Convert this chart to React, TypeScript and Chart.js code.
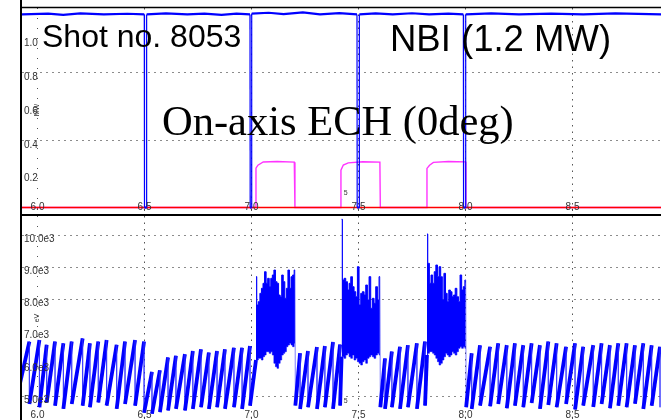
import React, { useEffect, useRef } from "react";
import { Chart, registerables } from "chart.js";

Chart.register(...registerables);

// ---------- shared x axis (time, s) ----------
const X_MIN = 5.9276;
const X_MAX = 8.9136;
const xTicks = [6.0, 6.5, 7.0, 7.5, 8.0, 8.5];
const xTickLabels = ["6.0", "6.5", "7.0", "7.5", "8.0", "8.5"];

// ---------- top panel (power, MW) ----------
const TOP_Y_MIN = -0.038;
const TOP_Y_MAX = 1.178;
const topTicks = [1.0, 0.8, 0.6, 0.4, 0.2];
const topTickLabels = ["1.0", "0.8", "0.6", "0.4", "0.2"];
const topGrid = [0.8, 0.4];

const nbiTimes = [5.9, 6.05, 6.12, 6.2, 6.31, 6.42, 6.499, 6.5, 6.509, 6.51, 6.6, 6.7, 6.78, 6.86, 6.93, 6.993, 6.994, 7.0, 7.001, 7.08, 7.15, 7.24, 7.32, 7.41, 7.493, 7.494, 7.503, 7.504, 7.58, 7.66, 7.75, 7.83, 7.92, 7.99, 7.991, 8.0, 8.001, 8.12, 8.25, 8.4, 8.55, 8.7, 8.95];
const nbiPower = [1.14, 1.145, 1.138, 1.146, 1.14, 1.144, 1.14, 0.0, 0.0, 1.14, 1.146, 1.14, 1.145, 1.138, 1.145, 1.14, 0.0, 0.0, 1.145, 1.15, 1.142, 1.152, 1.14, 1.148, 1.14, 0.0, 0.0, 1.14, 1.146, 1.14, 1.147, 1.14, 1.145, 1.14, 0.0, 0.0, 1.14, 1.146, 1.14, 1.145, 1.14, 1.146, 1.14];

const echTimes = [5.9, 7.02, 7.021, 7.03, 7.055, 7.12, 7.2, 7.203, 7.417, 7.418, 7.429, 7.452, 7.52, 7.6, 7.602, 7.819, 7.82, 7.832, 7.85, 7.92, 8.0, 8.002, 8.95];
const echPower = [0, 0, 0.233, 0.25, 0.269, 0.272, 0.268, 0, 0, 0.221, 0.251, 0.264, 0.27, 0.268, 0, 0, 0.231, 0.25, 0.267, 0.272, 0.27, 0, 0];

const zeroTimes = [5.9, 8.95];
const zeroLevel = [0, 0];

// ---------- bottom panel (Te, eV) ----------
const BOT_Y_MIN = 4255;
const BOT_Y_MAX = 10590;
const botTicks = [10000, 9000, 8000, 7000, 6000, 5000];
const botTickLabels = ["10.0e3", "9.0e3", "8.0e3", "7.0e3", "6.0e3", "5.0e3"];
const botGrid = [10000, 9000, 8000, 5000];

// sawtooth segment A (before first NBI notch)
const sawAStart = [5.915, 5300];
const sawATimes = [5.962, 6.009, 6.043, 6.082, 6.121, 6.16, 6.211, 6.245, 6.284, 6.323, 6.37, 6.409, 6.456, 6.498];
const sawAPeaks = [6690, 6740, 6590, 6690, 6640, 6690, 6790, 6640, 6690, 6740, 6590, 6690, 6740, 6690];
const sawATroughs = [4750, 4650, 4800, 4700, 4600, 4750, 4700, 4650, 4800, 4700, 4600, 4750, 4700, 4480];

// sawtooth segment B (after notch, before ECH pulse 1)
const sawBTimes = [6.535, 6.572, 6.61, 6.647, 6.689, 6.726, 6.764, 6.801, 6.839, 6.876, 6.918, 6.956, 6.993];
const sawBPeaks = [5750, 5800, 6200, 6250, 6300, 6400, 6450, 6350, 6400, 6450, 6500, 6500, 6550];
const sawBTroughs = [4450, 4500, 4550, 4600, 4550, 4600, 4650, 4600, 4650, 4600, 4650, 4600, 4700];

// ECH burst 1
const burst1Span = [7.021, 7.203];
const burst1Tops = [8706, 7826, 7930, 8189, 8344, 8500, 8861, 8500, 8655, 8396, 8655, 8758, 8913, 8551, 8500, 8137, 8085, 8758, 8551, 8034, 8344, 8913, 8344, 8706, 8758, 8913];
const burst1Bottoms = [6118, 6118, 6170, 6170, 6118, 6220, 6273, 6377, 6377, 6325, 6377, 6273, 6015, 5911, 5860, 6015, 6118, 6273, 6325, 6377, 6532, 6584, 6636, 6584, 6532, 6636];

// sawtooth segment C
const sawCStart = [7.205, 4700];
const sawCTimes = [7.227, 7.264, 7.306, 7.343, 7.381, 7.414];
const sawCPeaks = [6330, 6400, 6520, 6550, 6680, 6600];
const sawCTroughs = [4600, 4650, 4600, 4650, 4600, 4700];

// ECH burst 2
const burst2Span = [7.421, 7.6];
const burst2Tops = [10488, 8603, 8655, 8551, 8292, 8500, 8706, 8396, 8240, 8085, 9016, 7826, 8189, 8240, 8137, 8448, 7982, 8706, 7723, 8034, 7878, 8396, 7982, 8706];
const burst2Bottoms = [6220, 6220, 6170, 6273, 6325, 6220, 6170, 6273, 6118, 6170, 6066, 6015, 5963, 6066, 6118, 6015, 6170, 6220, 6273, 6220, 6170, 6273, 6325, 6273];

// sawtooth segment D
const sawDStart = [7.602, 4650];
const sawDTimes = [7.624, 7.656, 7.694, 7.731, 7.773, 7.811];
const sawDPeaks = [6170, 6380, 6530, 6580, 6640, 6690];
const sawDTroughs = [4600, 4650, 4600, 4650, 4600, 4700];

// ECH burst 3
const burst3Span = [7.82, 8.001];
const burst3Tops = [10032, 9121, 8500, 8758, 8500, 8861, 9069, 8706, 9016, 8706, 7982, 8810, 8189, 7930, 8292, 8240, 8085, 8137, 8344, 8085, 7930, 8758, 8292, 8396, 8603];
const burst3Bottoms = [6273, 6325, 6377, 6377, 6325, 6273, 6170, 6066, 5963, 6015, 6118, 6220, 6325, 6273, 6220, 6273, 6377, 6325, 6273, 6377, 6480, 6532, 6480, 6532, 6480];

// sawtooth segment E
const sawEStart = [8.003, 4650];
const sawETimes = [8.029, 8.068, 8.115, 8.153, 8.193, 8.231, 8.27, 8.309, 8.348, 8.387, 8.426, 8.47, 8.512, 8.55, 8.597, 8.636, 8.675, 8.714, 8.753, 8.792, 8.831, 8.87, 8.909];
const sawEPeaks = [6330, 6580, 6530, 6640, 6580, 6640, 6580, 6640, 6580, 6690, 6640, 6530, 6640, 6530, 6580, 6640, 6580, 6640, 6640, 6580, 6640, 6580, 6530];
const sawETroughs = [4600, 4700, 4680, 4750, 4620, 4700, 4650, 4780, 4600, 4720, 4650, 4750, 4580, 4700, 4660, 4750, 4620, 4700, 4650, 4760, 4600, 4700, 4650];

type Pt = { x: number; y: number | null };

function zip(xs: number[], ys: number[]): Pt[] {
  return xs.map((x, i) => ({ x, y: ys[i] }));
}

function addSaw(pts: Pt[], start: number[] | null, times: number[], peaks: number[], troughs: number[]) {
  if (start) pts.push({ x: start[0], y: start[1] });
  times.forEach((t, i) => {
    pts.push({ x: t, y: peaks[i] });
    pts.push({ x: t, y: troughs[i] });
  });
}

function burstTimes(span: number[], n: number): number[] {
  const dt = (span[1] - span[0]) / (n - 1);
  return Array.from({ length: n }, (_, i) => span[0] + dt * i);
}

// joins the sawtooth into a burst (ramp to first bottom) and out of it (crash from last top)
function addBurstLinks(pts: Pt[], span: number[], tops: number[], bottoms: number[]) {
  pts.push({ x: span[0], y: bottoms[0] });
  pts.push({ x: (span[0] + span[1]) / 2, y: null });
  pts.push({ x: span[1], y: tops[tops.length - 1] });
}

function buildTe(): Pt[] {
  const pts: Pt[] = [];
  addSaw(pts, sawAStart, sawATimes, sawAPeaks, sawATroughs);
  addSaw(pts, null, sawBTimes, sawBPeaks, sawBTroughs);
  addBurstLinks(pts, burst1Span, burst1Tops, burst1Bottoms);
  addSaw(pts, sawCStart, sawCTimes, sawCPeaks, sawCTroughs);
  addBurstLinks(pts, burst2Span, burst2Tops, burst2Bottoms);
  addSaw(pts, sawDStart, sawDTimes, sawDPeaks, sawDTroughs);
  addBurstLinks(pts, burst3Span, burst3Tops, burst3Bottoms);
  addSaw(pts, sawEStart, sawETimes, sawEPeaks, sawETroughs);
  return pts;
}

function burstDatasets(span: number[], tops: number[], bottoms: number[]) {
  const ts = burstTimes(span, tops.length);
  return [
    {
      data: zip(ts, tops),
      stepped: "middle",
      borderColor: "#0000ff",
      borderWidth: 1,
      backgroundColor: "#0000ff",
      fill: "+1",
    },
    {
      data: zip(ts, bottoms),
      stepped: "middle",
      borderColor: "rgba(40,40,255,0.7)",
      borderWidth: 1,
      fill: false,
    },
  ];
}

const LABEL_FONT = "10px 'Liberation Sans', Arial, sans-serif";

function panelPlugin(cfg: {
  hGrid: number[];
  yTicks: number[];
  yLabels: string[];
  yLabelOffset: number;
  xLabelOffset: number;
  isTop: boolean;
}) {
  return {
    id: "panelDecor",
    beforeDatasetsDraw(chart: any) {
      const { ctx, chartArea: a, scales } = chart;
      const x = scales.x;
      const y = scales.y;
      ctx.save();
      ctx.lineWidth = 1;
      ctx.strokeStyle = "#8c8c8c";
      ctx.setLineDash([2, 4]);
      cfg.hGrid.forEach((v) => {
        const py = Math.round(y.getPixelForValue(v)) + 0.5;
        ctx.beginPath();
        ctx.moveTo(a.left, py);
        ctx.lineTo(a.right, py);
        ctx.stroke();
      });
      ctx.strokeStyle = "#555";
      xTicks.forEach((v, i) => {
        ctx.setLineDash(i === 0 ? [1, 9] : [1.5, 5]);
        const px = Math.round(x.getPixelForValue(v)) + 0.5;
        ctx.beginPath();
        ctx.moveTo(px, a.top);
        ctx.lineTo(px, a.bottom);
        ctx.stroke();
      });
      ctx.restore();
    },
    afterDatasetsDraw(chart: any) {
      const { ctx, chartArea: a, scales } = chart;
      const x = scales.x;
      const y = scales.y;
      ctx.save();
      ctx.font = LABEL_FONT;
      ctx.fillStyle = "#333";
      ctx.textBaseline = "middle";
      ctx.textAlign = "left";
      cfg.yTicks.forEach((v, i) => {
        ctx.fillText(cfg.yLabels[i], a.left + 2, y.getPixelForValue(v) + cfg.yLabelOffset);
      });
      ctx.textAlign = "center";
      xTicks.forEach((v, i) => {
        ctx.fillText(xTickLabels[i], x.getPixelForValue(v), a.bottom - cfg.xLabelOffset);
      });
      ctx.font = "7px 'Liberation Sans', Arial, sans-serif";
      ctx.fillText("5", x.getPixelForValue(7.44), cfg.isTop ? y.getPixelForValue(0.086) : y.getPixelForValue(4854));
      ctx.save();
      ctx.translate(a.left + 15, cfg.isTop ? 110 : 102);
      ctx.rotate(-Math.PI / 2);
      ctx.font = "7px 'Liberation Sans', Arial, sans-serif";
      ctx.fillText(cfg.isTop ? "MW" : "eV", 0, 0);
      ctx.restore();

      // frame
      ctx.strokeStyle = "#000";
      ctx.setLineDash([]);
      ctx.lineWidth = 2;
      ctx.beginPath();
      ctx.moveTo(a.left - 1, 0);
      ctx.lineTo(a.left - 1, chart.height);
      ctx.stroke();
      if (cfg.isTop) {
        ctx.lineWidth = 1.5;
        ctx.beginPath();
        ctx.moveTo(a.left - 2, a.top - 0.5);
        ctx.lineTo(chart.width, a.top - 0.5);
        ctx.stroke();
        ctx.lineWidth = 2;
        ctx.beginPath();
        ctx.moveTo(a.left - 2, chart.height - 1);
        ctx.lineTo(chart.width, chart.height - 1);
        ctx.stroke();

        ctx.fillStyle = "#000";
        ctx.textAlign = "left";
        ctx.textBaseline = "alphabetic";
        ctx.font = "32px 'Liberation Sans', Arial, sans-serif";
        ctx.fillText("Shot no. 8053", 42, 47);
        ctx.font = "36.5px 'Liberation Sans', Arial, sans-serif";
        ctx.fillText("NBI (1.2 MW)", 390, 51);
        ctx.font = "42.5px 'Liberation Serif', 'Times New Roman', serif";
        ctx.fillText("On-axis ECH (0deg)", 162, 135);
      }
      ctx.restore();
    },
  };
}

function baseOptions(yMin: number, yMax: number, padding: any) {
  return {
    responsive: false,
    maintainAspectRatio: false,
    animation: false as const,
    events: [] as any[],
    layout: { padding },
    plugins: { legend: { display: false }, tooltip: { enabled: false } },
    elements: { point: { radius: 0 }, line: { tension: 0 } },
    scales: {
      x: { type: "linear" as const, display: false, min: X_MIN, max: X_MAX },
      y: { type: "linear" as const, display: false, min: yMin, max: yMax },
    },
  };
}

const isVertical = (c: any) => Math.abs(c.p0.x - c.p1.x) < 0.5;

export default function App() {
  const topRef = useRef<HTMLCanvasElement>(null);
  const botRef = useRef<HTMLCanvasElement>(null);

  useEffect(() => {
    const top = new Chart(topRef.current!, {
      type: "line",
      data: {
        datasets: [
          {
            data: zip(nbiTimes, nbiPower),
            borderColor: "#0000ff",
            borderWidth: 2.2,
            segment: { borderWidth: (c: any) => (isVertical(c) ? 1.2 : 2.2) },
          },
          { data: zip(zeroTimes, zeroLevel), borderColor: "#ff0000", borderWidth: 1.6 },
          { data: zip(echTimes, echPower), borderColor: "#ff33ff", borderWidth: 1.4 },
        ] as any,
      },
      options: baseOptions(TOP_Y_MIN, TOP_Y_MAX, { left: 22, top: 8, right: 0, bottom: 2 }) as any,
      plugins: [
        panelPlugin({
          hGrid: topGrid,
          yTicks: topTicks,
          yLabels: topTickLabels,
          yLabelOffset: 5,
          xLabelOffset: 7,
          isTop: true,
        }),
      ],
    });

    const bot = new Chart(botRef.current!, {
      type: "line",
      data: {
        datasets: [
          {
            data: buildTe(),
            borderColor: "#0000ff",
            borderWidth: 3.8,
            spanGaps: false,
            segment: {
              borderWidth: (c: any) => (isVertical(c) ? 1 : 3.8),
              borderColor: (c: any) => (isVertical(c) ? "rgba(40,40,255,0.6)" : "#0000ff"),
            },
          },
          ...burstDatasets(burst1Span, burst1Tops, burst1Bottoms),
          ...burstDatasets(burst2Span, burst2Tops, burst2Bottoms),
          ...burstDatasets(burst3Span, burst3Tops, burst3Bottoms),
        ] as any,
      },
      options: baseOptions(BOT_Y_MIN, BOT_Y_MAX, { left: 22, top: 0, right: 0, bottom: 0 }) as any,
      plugins: [
        panelPlugin({
          hGrid: botGrid,
          yTicks: botTicks,
          yLabels: botTickLabels,
          yLabelOffset: 4,
          xLabelOffset: 5,
          isTop: false,
        }),
      ],
    });

    return () => {
      top.destroy();
      bot.destroy();
    };
  }, []);

  return (
    <div style={{ position: "fixed", left: 0, top: 0, width: 661, height: 420, background: "#fff", overflow: "hidden" }}>
      <canvas ref={topRef} width={661} height={216} style={{ position: "absolute", left: 0, top: 0, width: 661, height: 216 }} />
      <canvas ref={botRef} width={661} height={204} style={{ position: "absolute", left: 0, top: 216, width: 661, height: 204 }} />
    </div>
  );
}
